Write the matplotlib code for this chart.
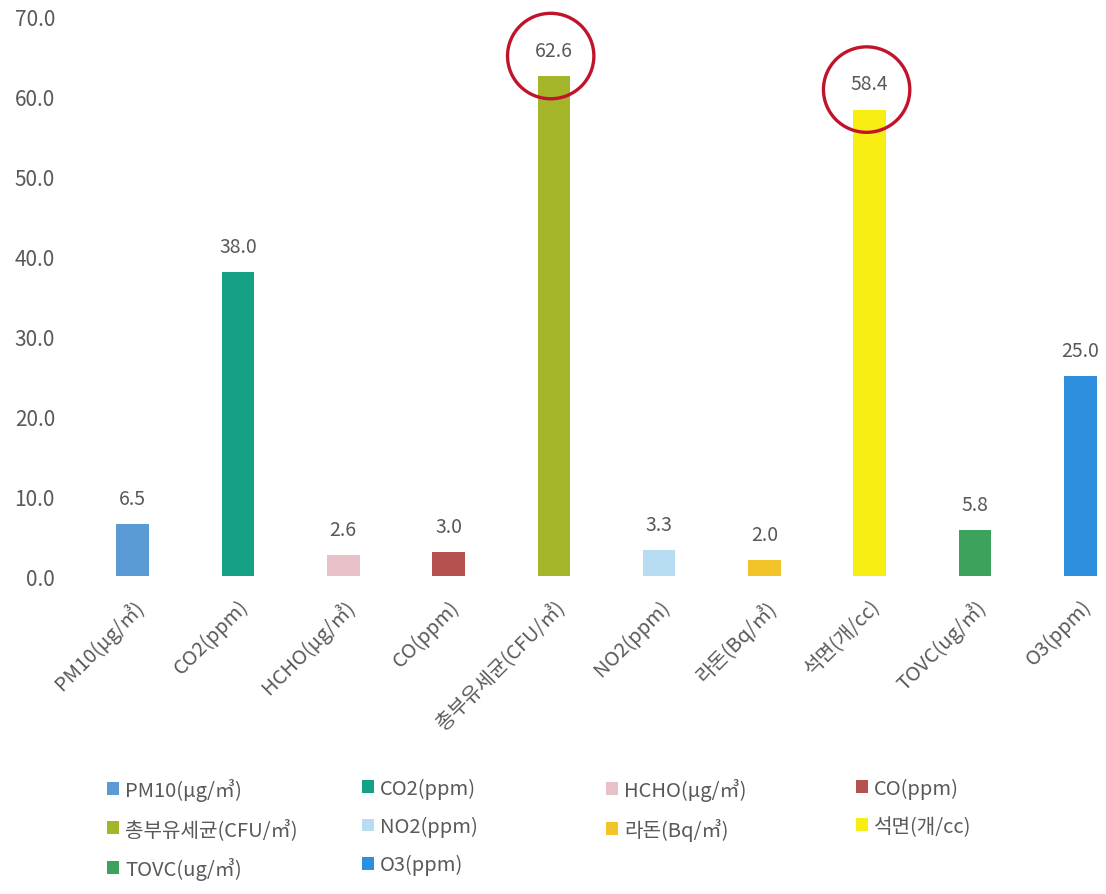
import matplotlib.pyplot as plt
from matplotlib.patches import Ellipse

plt.rcParams['font.family'] = ['Noto Sans CJK KR', 'DejaVu Sans']

# 항목, 값, 색상
labels = ['PM10(μg/㎥)', 'CO2(ppm)', 'HCHO(μg/㎥)', 'CO(ppm)', '총부유세균(CFU/㎥)',
          'NO2(ppm)', '라돈(Bq/㎥)', '석면(개/cc)', 'TOVC(ug/㎥)', 'O3(ppm)']
values = [6.5, 38.0, 2.6, 3.0, 62.6, 3.3, 2.0, 58.4, 5.8, 25.0]
colors = ['#5b9bd5', '#14a085', '#e8c0c8', '#b5514f', '#a4b52a',
          '#b8ddf3', '#f2c42a', '#f8ee14', '#3ba35b', '#2e8fdf']
circled = [4, 7]   # 빨간 동그라미 표시

grey = '#595959'

fig = plt.figure(figsize=(11.06, 8.95), dpi=100)
ax = fig.add_axes([0.0723, 0.3553, 0.9277, 0.6247])

x = list(range(len(values)))
bars = ax.bar(x, values, width=0.31, color=colors, label=labels)

for i, v in enumerate(values):
    ax.text(i, v + 3.2, f'{v:.1f}', ha='center', va='center', fontsize=14, color=grey)

for i in circled:
    ax.add_patch(Ellipse((i - 0.03, values[i] + 2.5), 0.82, 10.7, fill=False,
                         edgecolor='#c0142a', linewidth=2.4, clip_on=False))

ax.set_xlim(-0.5, 9.243)
ax.set_ylim(0, 70)
ax.set_yticks(range(0, 71, 10))
ax.set_yticklabels([f'{t:.1f}' for t in range(0, 71, 10)])
ax.tick_params(axis='y', length=0, pad=18, labelsize=15, labelcolor=grey)
ax.set_xticks(x)
ax.set_xticklabels(labels, rotation=45, ha='right', rotation_mode='anchor')
ax.tick_params(axis='x', length=0, pad=14, labelsize=14.5, labelcolor=grey)
for s in ax.spines.values():
    s.set_visible(False)

# 범례: 엑셀처럼 고정 폭의 4열, 행 우선 순서
col_x = [0.0967, 0.327, 0.548, 0.774]
for c, cx in enumerate(col_x):
    idx = list(range(c, len(labels), 4))
    fig.legend([bars.patches[i] for i in idx], [labels[i] for i in idx],
               loc='upper left', bbox_to_anchor=(cx, 0.13), frameon=False,
               fontsize=14.5, labelcolor=grey, handlelength=0.6, handleheight=0.6,
               handletextpad=0.3, labelspacing=0.85, borderaxespad=0, borderpad=0)

fig.savefig('out.png', dpi=100)
